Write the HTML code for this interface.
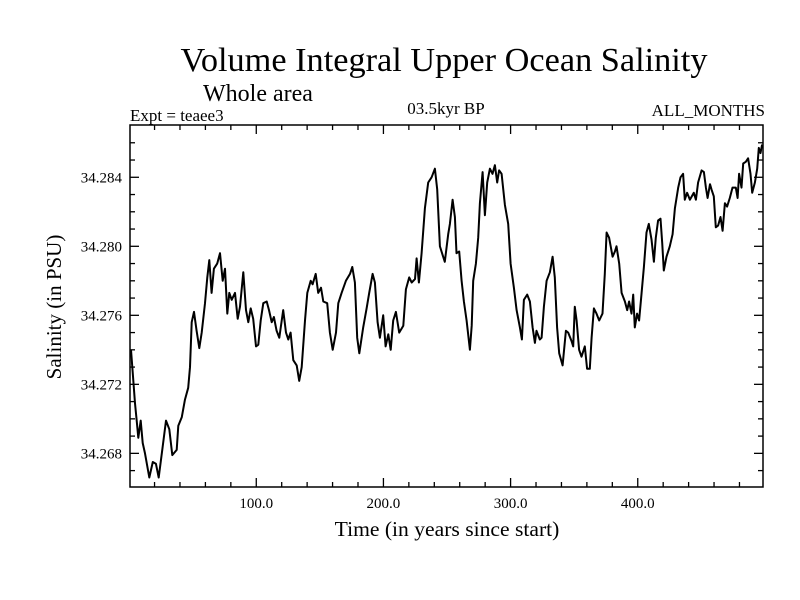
<!DOCTYPE html>
<html><head><meta charset="utf-8"><style>
html,body{margin:0;padding:0;background:#fff;}
svg{display:block;font-family:"Liberation Serif",serif;}
</style></head><body>
<svg id="chart" width="800" height="600" viewBox="0 0 800 600" xmlns="http://www.w3.org/2000/svg">
<rect width="800" height="600" fill="#fff"/>
<text x="444" y="71" font-size="34.3" text-anchor="middle">Volume Integral Upper Ocean Salinity</text>
<text x="203" y="101" font-size="24">Whole area</text>
<text x="130" y="121" font-size="17">Expt = teaee3</text>
<text x="446" y="114" font-size="17" text-anchor="middle">03.5kyr BP</text>
<text x="765" y="116" font-size="17" text-anchor="end">ALL_MONTHS</text>
<text x="447" y="536" font-size="21.6" text-anchor="middle">Time (in years since start)</text>
<text x="0" y="0" font-size="21" text-anchor="middle" transform="translate(61,307) rotate(-90)">Salinity (in PSU)</text>
<g id="axes"></g>
<rect x="130" y="125" width="633" height="362" fill="none" stroke="#000" stroke-width="1.5"/>
<path id="series" fill="none" stroke="#000" stroke-width="2" stroke-linejoin="round"/>
</svg>
<script>
const years = [1.5,2.8,4.6,6.0,7.2,9.1,10.7,12.5,15.9,18.6,21.1,23.3,26.4,29.0,31.6,34.0,37.4,38.7,41.4,43.9,46.5,47.9,49.2,51.0,53.1,55.2,57.1,59.7,61.5,63.1,64.9,66.7,69.3,71.5,73.6,75.4,77.2,78.8,80.7,83.3,85.4,87.2,89.8,91.9,93.7,95.6,97.6,99.8,101.6,103.5,105.5,108.2,110.0,112.1,113.9,116.0,118.1,121.2,123.4,125.2,127.0,129.1,131.8,133.8,135.7,138.3,140.1,142.8,144.3,146.7,148.7,150.9,152.7,155.8,157.9,160.1,162.7,164.5,167.1,170.5,173.7,175.5,177.6,179.4,181.0,184.1,186.8,188.8,191.5,193.3,195.4,197.2,199.8,201.7,203.8,205.7,207.7,209.8,212.4,215.6,217.7,220.3,222.2,224.8,226.1,227.9,230.0,232.6,235.2,237.9,240.5,242.3,244.4,246.5,248.3,250.9,252.3,254.4,256.2,257.5,259.6,261.5,263.3,265.4,268.0,269.4,270.6,272.7,274.5,275.9,278.0,279.8,281.6,283.7,285.8,287.7,289.5,291.0,292.9,295.5,298.1,300.0,302.6,304.7,307.3,308.9,310.5,313.1,315.2,317.3,319.1,320.4,323.0,324.4,326.2,328.3,330.9,333.0,334.8,336.6,338.2,340.9,343.5,345.3,348.0,349.2,350.5,351.9,353.9,355.8,358.4,360.2,362.3,363.7,365.5,367.6,369.7,372.3,374.1,375.5,377.5,380.2,382.0,383.3,385.4,387.3,389.9,391.7,393.2,395.1,396.4,397.7,399.5,401.1,403.0,404.8,406.9,408.7,410.8,412.7,414.2,416.0,417.9,419.2,420.5,422.6,425.2,427.4,429.2,431.8,433.6,435.7,437.0,438.8,441.0,444.1,445.7,447.5,450.2,452.0,453.6,454.9,456.8,458.0,459.8,461.4,463.2,465.1,466.7,468.5,470.3,472.4,474.5,477.1,478.5,479.7,481.6,482.9,485.0,486.8,488.7,490.0,492.1,493.9,495.2,496.5,497.8];
const salinity = [34.2740,34.2727,34.2709,34.2699,34.2689,34.2699,34.2686,34.2680,34.2666,34.2675,34.2674,34.2666,34.2684,34.2699,34.2694,34.2679,34.2682,34.2696,34.2701,34.2711,34.2718,34.2730,34.2756,34.2762,34.2751,34.2741,34.2750,34.2767,34.2782,34.2792,34.2773,34.2787,34.2790,34.2796,34.2780,34.2787,34.2761,34.2773,34.2769,34.2773,34.2758,34.2765,34.2785,34.2763,34.2756,34.2764,34.2758,34.2742,34.2743,34.2757,34.2767,34.2768,34.2763,34.2756,34.2759,34.2751,34.2747,34.2763,34.2750,34.2746,34.2750,34.2734,34.2731,34.2722,34.2730,34.2757,34.2773,34.2780,34.2778,34.2784,34.2773,34.2776,34.2768,34.2767,34.2750,34.2740,34.2750,34.2767,34.2773,34.2780,34.2784,34.2788,34.2779,34.2747,34.2738,34.2753,34.2764,34.2773,34.2784,34.2779,34.2756,34.2747,34.2760,34.2742,34.2749,34.2740,34.2757,34.2762,34.2750,34.2754,34.2775,34.2782,34.2779,34.2781,34.2793,34.2779,34.2796,34.2822,34.2837,34.2840,34.2845,34.2833,34.2800,34.2795,34.2791,34.2807,34.2813,34.2827,34.2817,34.2796,34.2797,34.2780,34.2768,34.2757,34.2740,34.2754,34.2780,34.2790,34.2805,34.2825,34.2843,34.2818,34.2837,34.2845,34.2842,34.2847,34.2837,34.2844,34.2842,34.2824,34.2813,34.2790,34.2776,34.2763,34.2753,34.2746,34.2769,34.2772,34.2768,34.2753,34.2744,34.2751,34.2746,34.2747,34.2765,34.2780,34.2785,34.2794,34.2782,34.2753,34.2738,34.2731,34.2751,34.2750,34.2745,34.2742,34.2765,34.2757,34.2740,34.2736,34.2742,34.2729,34.2729,34.2747,34.2764,34.2761,34.2757,34.2761,34.2784,34.2808,34.2805,34.2794,34.2797,34.2800,34.2790,34.2773,34.2768,34.2763,34.2768,34.2761,34.2772,34.2753,34.2761,34.2757,34.2773,34.2788,34.2808,34.2813,34.2804,34.2791,34.2805,34.2815,34.2816,34.2802,34.2786,34.2794,34.2800,34.2807,34.2822,34.2834,34.2840,34.2842,34.2827,34.2831,34.2827,34.2831,34.2827,34.2837,34.2844,34.2843,34.2834,34.2828,34.2836,34.2833,34.2829,34.2811,34.2812,34.2817,34.2809,34.2825,34.2823,34.2828,34.2834,34.2834,34.2828,34.2842,34.2834,34.2848,34.2849,34.2851,34.2842,34.2831,34.2837,34.2845,34.2857,34.2854,34.2859];
const xTickValues = [100,200,300,400];
const xTickLabels = ["100.0","200.0","300.0","400.0"];
const yTickValues = [34.268,34.272,34.276,34.280,34.284];
const yTickLabels = ["34.268","34.272","34.276","34.280","34.284"];

const L=130,R=763,T=125,B=487;
const xMin=0.7,xMax=498.5,yMin=34.26605,yMax=34.28703;
function xs(v){return L+(v-xMin)/(xMax-xMin)*(R-L);}
function ys(v){return B-(v-yMin)/(yMax-yMin)*(B-T);}
const NS="http://www.w3.org/2000/svg";
const axes=document.getElementById('axes');
function line(x1,y1,x2,y2,name){
  const l=document.createElementNS(NS,'line');
  l.setAttribute('x1',x1);l.setAttribute('y1',y1);l.setAttribute('x2',x2);l.setAttribute('y2',y2);
  l.setAttribute('stroke','#000');l.setAttribute('stroke-width','1.3');
  
  
  axes.appendChild(l);
}
function text(x,y,s,anchor,name){
  const t=document.createElementNS(NS,'text');
  t.setAttribute('x',x);t.setAttribute('y',y);t.setAttribute('font-size','15');t.setAttribute('text-anchor',anchor);
  t.textContent=s;
  
  
  axes.appendChild(t);
}
for(let v=20;v<xMax;v+=20){
  const x=xs(v), major=(v%100===0), len=major?9:5;
  line(x,B,x,B-len,'x-tick');
  line(x,T,x,T+len,'x-tick-top');
}
xTickValues.forEach((v,i)=>text(xs(v),508,xTickLabels[i],'middle','x-tick-label'));
for(let k=267;k<=286;k++){
  const v=34+k/1000, y=ys(v), major=(k%4===0), len=major?9:5;
  line(L,y,L+len,y,'y-tick');
  line(R,y,R-len,y,'y-tick-right');
}
yTickValues.forEach((v,i)=>text(122,ys(v)+5,yTickLabels[i],'end','y-tick-label'));
let d='';
years.forEach((yr,i)=>{d+=(i?'L':'M')+xs(yr).toFixed(1)+' '+ys(salinity[i]).toFixed(1);});
document.getElementById('series').setAttribute('d',d);
</script>
</body></html>
